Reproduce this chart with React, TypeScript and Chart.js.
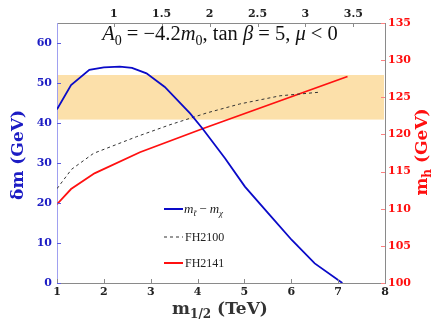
import React, { useEffect, useRef } from "react";
import { Chart, registerables } from "chart.js";

Chart.register(...registerables);

// ---- data ----
const bottomTicks = [1, 2, 3, 4, 5, 6, 7, 8];
const topTicks = [1, 1.5, 2, 2.5, 3, 3.5];
const topRange = [0.408, 3.83];
const dmTicks = [0, 10, 20, 30, 40, 50, 60];
const mhTicks = [100, 105, 110, 115, 120, 125, 130, 135];
const bandMh = [122, 128];

const dmX = [1, 1.3, 1.69, 2.0, 2.34, 2.6, 2.91, 3.3, 3.84, 4.1, 4.585, 5.01, 5.51, 6.01, 6.5, 7.09];
const dmY = [43.4, 49.5, 53.3, 53.9, 54.1, 53.8, 52.4, 49.0, 42.4, 38.7, 31.2, 24.1, 17.4, 10.75, 4.9, 0];

const fh2100X = [1, 1.31, 1.78, 2.7, 3.41, 4.2, 4.9, 5.76, 6.63];
const fh2100Y = [112.7, 115.3, 117.45, 119.7, 121.3, 122.9, 124.1, 125.2, 125.7];

const fh2141X = [1, 1.3, 1.8, 2.77, 4.12, 7.2];
const fh2141Y = [110.6, 112.65, 114.76, 117.6, 120.8, 127.8];

const BLUE = "#0a0ac8";
const BLUE_TXT = "#1c1cc4";
const RED = "#ff1010";
const GRAY = "#8a8a8a";

type Seg = { t: string; it?: boolean; sub?: boolean };

function drawRich(
  ctx: CanvasRenderingContext2D,
  segs: Seg[],
  x: number,
  y: number,
  size: number,
  family: string,
  weight: string,
  align: "left" | "center"
) {
  const fontFor = (s: Seg) =>
    `${s.it ? "italic " : ""}${weight} ${s.sub ? Math.round(size * 0.7) : size}px ${family}`;
  let total = 0;
  for (const s of segs) {
    ctx.font = fontFor(s);
    total += ctx.measureText(s.t).width;
  }
  let cx = align === "center" ? x - total / 2 : x;
  ctx.textAlign = "left";
  ctx.textBaseline = "alphabetic";
  for (const s of segs) {
    ctx.font = fontFor(s);
    ctx.fillText(s.t, cx, s.sub ? y + size * 0.25 : y);
    cx += ctx.measureText(s.t).width;
  }
}

const customPlugin = {
  id: "custom",
  beforeDatasetsDraw(chart: any) {
    const { ctx, chartArea } = chart;
    const y2 = chart.scales.y2;
    const yt = y2.getPixelForValue(bandMh[1]);
    const yb = y2.getPixelForValue(bandMh[0]);
    ctx.save();
    ctx.fillStyle = "rgb(252,224,170)";
    ctx.fillRect(chartArea.left + 1, yt, chartArea.right - chartArea.left - 2, yb - yt);
    ctx.restore();
  },
  afterDraw(chart: any) {
    const { ctx, chartArea } = chart;
    const { left, right, top, bottom } = chartArea;
    const sx = chart.scales.x;
    const sx2 = chart.scales.x2;
    const sy = chart.scales.y;
    const sy2 = chart.scales.y2;
    ctx.save();
    ctx.lineWidth = 1;
    // inward ticks
    ctx.strokeStyle = GRAY;
    for (const v of bottomTicks) {
      const px = Math.round(sx.getPixelForValue(v)) + 0.5;
      ctx.beginPath();
      ctx.moveTo(px, bottom);
      ctx.lineTo(px, bottom - 4);
      ctx.stroke();
    }
    for (const v of topTicks) {
      const px = Math.round(sx2.getPixelForValue(v)) + 0.5;
      ctx.beginPath();
      ctx.moveTo(px, top);
      ctx.lineTo(px, top + 4);
      ctx.stroke();
    }
    ctx.strokeStyle = "#5a5ae0";
    for (const v of dmTicks) {
      const py = Math.round(sy.getPixelForValue(v)) + 0.5;
      ctx.beginPath();
      ctx.moveTo(left, py);
      ctx.lineTo(left + 4, py);
      ctx.stroke();
    }
    ctx.strokeStyle = "#ff8080";
    for (const v of mhTicks) {
      const py = Math.round(sy2.getPixelForValue(v)) + 0.5;
      ctx.beginPath();
      ctx.moveTo(right, py);
      ctx.lineTo(right - 4, py);
      ctx.stroke();
    }

    // title
    ctx.fillStyle = "#111";
    drawRich(
      ctx,
      [
        { t: "A", it: true },
        { t: "0", sub: true },
        { t: " = −4.2" },
        { t: "m", it: true },
        { t: "0", sub: true },
        { t: ", tan " },
        { t: "β", it: true },
        { t: " = 5, " },
        { t: "μ", it: true },
        { t: " < 0" },
      ],
      220,
      40,
      20.5,
      '"Liberation Serif"',
      "normal",
      "center"
    );

    // axis titles
    const lblFamily = '"DejaVu Serif"';
    ctx.save();
    ctx.translate(17, 155);
    ctx.rotate(-Math.PI / 2);
    ctx.fillStyle = BLUE_TXT;
    drawRich(ctx, [{ t: "δm (GeV)" }], 0, 6, 17, lblFamily, "bold", "center");
    ctx.restore();

    ctx.save();
    ctx.translate(421, 152);
    ctx.rotate(-Math.PI / 2);
    ctx.fillStyle = RED;
    drawRich(ctx, [{ t: "m" }, { t: "h", sub: true }, { t: " (GeV)" }], 0, 6, 17, lblFamily, "bold", "center");
    ctx.restore();

    ctx.fillStyle = "#333";
    drawRich(ctx, [{ t: "m" }, { t: "1/2", sub: true }, { t: " (TeV)" }], 220, 314, 17, lblFamily, "bold", "center");

    // legend
    const items = [
      { y: 209, color: BLUE, dash: [] as number[], w: 2 },
      { y: 237, color: "#333", dash: [3, 3], w: 1 },
      { y: 263, color: RED, dash: [] as number[], w: 2 },
    ];
    for (const it of items) {
      ctx.save();
      ctx.strokeStyle = it.color;
      ctx.lineWidth = it.w;
      ctx.setLineDash(it.dash);
      ctx.beginPath();
      ctx.moveTo(164, it.y);
      ctx.lineTo(183, it.y);
      ctx.stroke();
      ctx.restore();
    }
    ctx.fillStyle = "#222";
    drawRich(
      ctx,
      [
        { t: "m", it: true },
        { t: "t̃", it: true, sub: true },
        { t: " − " },
        { t: "m", it: true },
        { t: "χ", it: true, sub: true },
      ],
      184,
      213,
      13,
      '"Liberation Serif"',
      "normal",
      "left"
    );
    drawRich(ctx, [{ t: "FH2100" }], 185, 241, 12, '"Liberation Serif"', "normal", "left");
    drawRich(ctx, [{ t: "FH2141" }], 185, 267, 12, '"Liberation Serif"', "normal", "left");
    ctx.restore();
  },
};

const tickFont = { family: '"DejaVu Serif"', weight: "bold" as const, size: 11 };
const fmt = (v: any) => String(Math.round(Number(v) * 100) / 100);

export default function App() {
  const ref = useRef<HTMLCanvasElement | null>(null);
  useEffect(() => {
    document.body.style.margin = "0";
    const canvas = ref.current!;
    const toXY = (xs: number[], ys: number[]) => xs.map((x, i) => ({ x, y: ys[i] }));
    const chart = new Chart(canvas, {
      type: "line",
      data: {
        datasets: [
          {
            label: "dm",
            data: toXY(dmX, dmY),
            borderColor: BLUE,
            borderWidth: 1.8,
            pointRadius: 0,
            tension: 0,
            xAxisID: "x",
            yAxisID: "y",
          },
          {
            label: "FH2100",
            data: toXY(fh2100X, fh2100Y),
            borderColor: "#333",
            borderWidth: 1,
            borderDash: [3, 3],
            pointRadius: 0,
            tension: 0,
            xAxisID: "x",
            yAxisID: "y2",
          },
          {
            label: "FH2141",
            data: toXY(fh2141X, fh2141Y),
            borderColor: RED,
            borderWidth: 1.8,
            pointRadius: 0,
            tension: 0,
            xAxisID: "x",
            yAxisID: "y2",
          },
        ],
      },
      options: {
        responsive: false,
        animation: false,
        layout: { padding: 0 },
        plugins: { legend: { display: false }, tooltip: { enabled: false } },
        scales: {
          x: {
            type: "linear",
            position: "bottom",
            min: 1,
            max: 8,
            afterBuildTicks: (s: any) => {
              s.ticks = bottomTicks.map((v) => ({ value: v }));
            },
            afterFit: (s: any) => {
              s.height = 44;
            },
            grid: { display: false, drawTicks: false },
            border: { color: GRAY, width: 1 },
            ticks: { color: "#222", font: tickFont, padding: 3, maxRotation: 0, autoSkip: false, callback: fmt },
          },
          x2: {
            type: "linear",
            position: "top",
            min: topRange[0],
            max: topRange[1],
            afterBuildTicks: (s: any) => {
              s.ticks = topTicks.map((v) => ({ value: v }));
            },
            afterFit: (s: any) => {
              s.height = 23;
            },
            grid: { display: false, drawTicks: false },
            border: { color: GRAY, width: 1 },
            ticks: { color: "#222", font: tickFont, padding: 2, maxRotation: 0, autoSkip: false, callback: fmt },
          },
          y: {
            type: "linear",
            position: "left",
            min: 0,
            max: 65,
            afterBuildTicks: (s: any) => {
              s.ticks = dmTicks.map((v) => ({ value: v }));
            },
            afterFit: (s: any) => {
              s.width = 57;
            },
            grid: { display: false, drawTicks: false },
            border: { color: "#a0a0f0", width: 1 },
            ticks: { color: BLUE_TXT, font: tickFont, padding: 5, autoSkip: false, callback: fmt },
          },
          y2: {
            type: "linear",
            position: "right",
            min: 100,
            max: 135,
            afterBuildTicks: (s: any) => {
              s.ticks = mhTicks.map((v) => ({ value: v }));
            },
            afterFit: (s: any) => {
              s.width = 52;
            },
            grid: { display: false, drawTicks: false },
            border: { color: GRAY, width: 1 },
            ticks: { color: RED, font: tickFont, padding: 3, autoSkip: false, callback: fmt },
          },
        },
      },
      plugins: [customPlugin],
    } as any);
    return () => chart.destroy();
  }, []);
  return <canvas ref={ref} width={437} height={327} style={{ display: "block" }} />;
}
